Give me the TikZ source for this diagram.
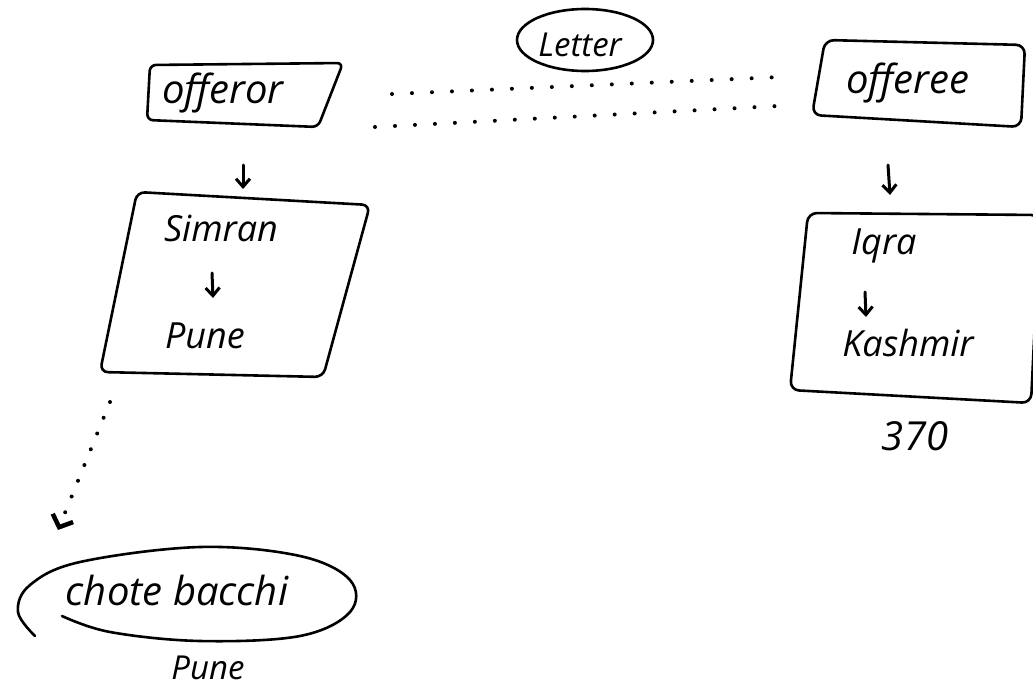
\documentclass[tikz,border=0pt]{standalone}
\usepackage{fontspec}
\setmainfont{Open Sans}
\usetikzlibrary{arrows.meta}
\tikzset{
  ink/.style={line width=2.6pt, line cap=round, line join=round, draw=black},
  word/.style={font=\itshape\fontsize{36}{38}\selectfont, inner sep=0pt},
  bigword/.style={font=\itshape\fontsize{40}{42}\selectfont, inner sep=0pt},
  small/.style={font=\itshape\fontsize{33}{35}\selectfont, inner sep=0pt},
  downtick/.style={ink, line width=3pt, -{Straight Barb[length=8pt,width=14pt,line width=3pt]}},
  dotline/.style={line width=4pt, line cap=round, dash pattern=on 0pt off 20pt},
  dotarrow/.style={line width=4pt, line cap=round, dash pattern=on 0pt off 17pt,
    -{Straight Barb[length=10pt,width=22pt,line width=4.5pt]}}
}
\begin{document}
\begin{tikzpicture}[x=1pt,y=-1pt]
\useasboundingbox (0,0) rectangle (1033,693);

% offeror and offeree
\node[bigword] (offeror) at (223,93) {offeror};
\draw[ink, rounded corners=6pt] (150,65) -- (343,63) -- (318,127) -- (147,120) -- cycle;
\node[bigword] (offeree) at (908,83) {offeree};
\draw[ink, rounded corners=9pt] (825,40) -- (1025,45) -- (1021,127) -- (812,115) -- cycle;

% letter between them
\coordinate (letter) at (585,40);
\node[small] (lettertxt) at (580,45) {Letter};
\draw[ink] (letter) ellipse [x radius=68pt, y radius=31pt];

% dotted lines of the letter
\coordinate (u1) at (392,94);
\coordinate (u2) at (781,77);
\coordinate (l1) at (375,127);
\coordinate (l2) at (778,106);
\draw[dotline] (u1) -- (u2);
\draw[dotline] (l1) -- (l2);

% left column
\coordinate (a1s) at (243,165);
\coordinate (a1e) at (243,189);
\draw[downtick] (a1s) -- (a1e);
\draw[ink, rounded corners=8pt] (137,192) -- (370,205) -- (323,377) -- (100,372) -- cycle;
\node[word] (simran) at (221,228) {Simran};
\coordinate (a2s) at (212,273);
\coordinate (a2e) at (213,298);
\draw[downtick] (a2s) -- (a2e);
\node[word] (pune) at (205,336) {Pune};

% right column
\coordinate (a3s) at (888,165);
\coordinate (a3e) at (890,195);
\draw[downtick] (a3s) -- (a3e);
\draw[ink, rounded corners=9pt] (808,213) -- (1040,215) -- (1031,403) -- (790,390) -- cycle;
\node[word] (iqra) at (884,246) {Iqra};
\coordinate (a4s) at (865,292);
\coordinate (a4e) at (866,317);
\draw[downtick] (a4s) -- (a4e);
\node[word] (kashmir) at (908,343) {Kashmir};
\node[bigword] (num) at (915,436) {370};

% dotted arrow down to the oval
\coordinate (d1) at (110,402);
\coordinate (d2) at (58,530);
\draw[dotarrow] (d1) -- (d2);

% open oval
\draw[ink] plot[smooth, tension=0.6] coordinates {(35,636) (18,612) (30,585) (80,562) (200,547) (300,556) (350,580) (350,612) (300,636) (200,641) (110,632) (62,616)};
\node[bigword] (chote) at (177,590) {chote bacchi};
\node[font=\itshape\fontsize{33}{35}\selectfont, inner sep=0pt] (pune2) at (208,668) {Pune};
\end{tikzpicture}
\end{document}
